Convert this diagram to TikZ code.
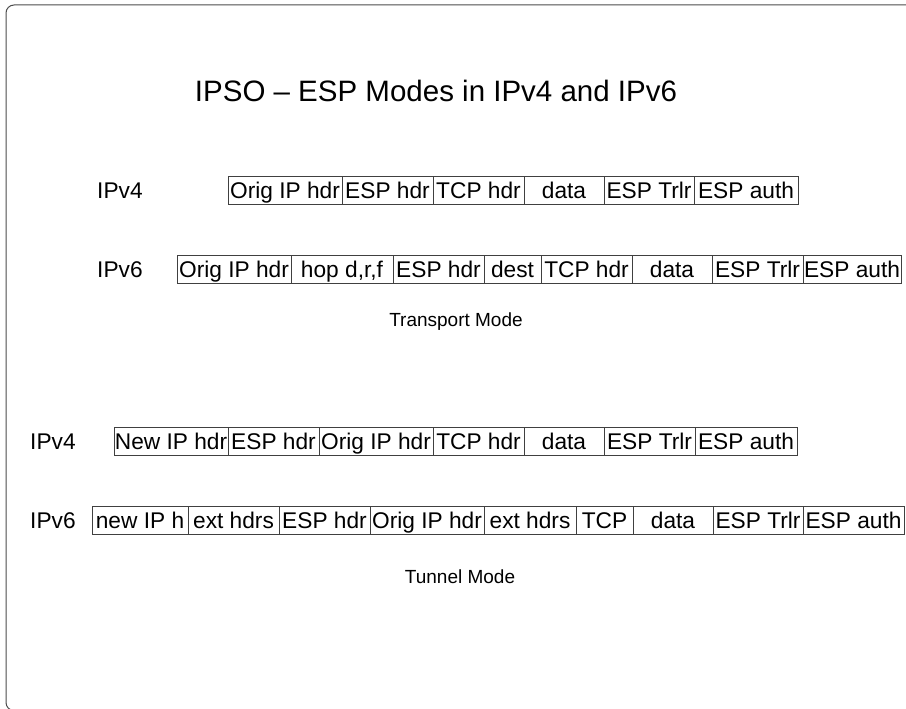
\documentclass[tikz,border=0pt]{standalone}
\usepackage{fontspec}
\setmainfont{Liberation Sans}
\begin{document}
\begin{tikzpicture}[x=1bp,y=-1bp,
  cell/.style={draw=black!75, line width=0.9bp, minimum height=28bp, inner sep=0pt, outer sep=0pt,
    anchor=west, font=\fontsize{22.7bp}{26bp}\selectfont, text height=16.3bp, text depth=0pt},
  lbl/.style={inner sep=0pt, anchor=west, font=\fontsize{22.7bp}{26bp}\selectfont,
    text height=16.3bp, text depth=0pt},
  caption/.style={inner sep=0pt, font=\fontsize{19bp}{22bp}\selectfont,
    text height=13.6bp, text depth=0pt},
  frame/.style={draw=black!70, line width=1bp, rounded corners=8bp}]
\clip (0,0) rectangle (906,709);
\path[frame] (6,5) rectangle (930,710.5);
\node[inner sep=0pt, font=\fontsize{29.5bp}{34bp}\selectfont, text height=21bp, text depth=0pt]
  (title) at (436,91.5) {IPSO -- ESP Modes in IPv4 and IPv6};
% Transport mode IPv4
\node[lbl] (l1) at (97,190) {IPv4};
\node[cell, minimum width=114bp] (a1) at (228,190) {Orig IP hdr};
\node[cell, minimum width=91bp] (a2) at (a1.east) {ESP hdr};
\node[cell, minimum width=91bp] (a3) at (a2.east) {TCP hdr};
\node[cell, minimum width=80bp] (a4) at (a3.east) {data};
\node[cell, minimum width=90bp] (a5) at (a4.east) {ESP Trlr};
\node[cell, minimum width=104bp] (a6) at (a5.east) {ESP auth};
% Transport mode IPv6
\node[lbl] (l2) at (97,269.5) {IPv6};
\node[cell, minimum width=114bp] (b1) at (177,269.5) {Orig IP hdr};
\node[cell, minimum width=102bp] (b2) at (b1.east) {hop d,r,f};
\node[cell, minimum width=91bp] (b3) at (b2.east) {ESP hdr};
\node[cell, minimum width=57bp] (b4) at (b3.east) {dest};
\node[cell, minimum width=91bp] (b5) at (b4.east) {TCP hdr};
\node[cell, minimum width=80bp] (b6) at (b5.east) {data};
\node[cell, minimum width=91bp] (b7) at (b6.east) {ESP Trlr};
\node[cell, minimum width=98bp] (b8) at (b7.east) {ESP auth};
\node[caption] (tm) at (456,320) {Transport Mode};
% Tunnel mode IPv4
\node[lbl] (l3) at (30,441) {IPv4};
\node[cell, minimum width=114bp] (c1) at (114,441) {New IP hdr};
\node[cell, minimum width=91bp] (c2) at (c1.east) {ESP hdr};
\node[cell, minimum width=114bp] (c3) at (c2.east) {Orig IP hdr};
\node[cell, minimum width=91bp] (c4) at (c3.east) {TCP hdr};
\node[cell, minimum width=80bp] (c5) at (c4.east) {data};
\node[cell, minimum width=91bp] (c6) at (c5.east) {ESP Trlr};
\node[cell, minimum width=102bp] (c7) at (c6.east) {ESP auth};
% Tunnel mode IPv6
\node[lbl] (l4) at (30,520.5) {IPv6};
\node[cell, minimum width=96bp] (d1) at (92,520.5) {new IP h};
\node[cell, minimum width=91bp] (d2) at (d1.east) {ext hdrs};
\node[cell, minimum width=91bp] (d3) at (d2.east) {ESP hdr};
\node[cell, minimum width=114bp] (d4) at (d3.east) {Orig IP hdr};
\node[cell, minimum width=92bp] (d5) at (d4.east) {ext hdrs};
\node[cell, minimum width=57bp] (d6) at (d5.east) {TCP};
\node[cell, minimum width=80bp] (d7) at (d6.east) {data};
\node[cell, minimum width=90bp] (d8) at (d7.east) {ESP Trlr};
\node[cell, minimum width=101bp] (d9) at (d8.east) {ESP auth};
\node[caption] (tun) at (460,577) {Tunnel Mode};
\end{tikzpicture}
\end{document}
